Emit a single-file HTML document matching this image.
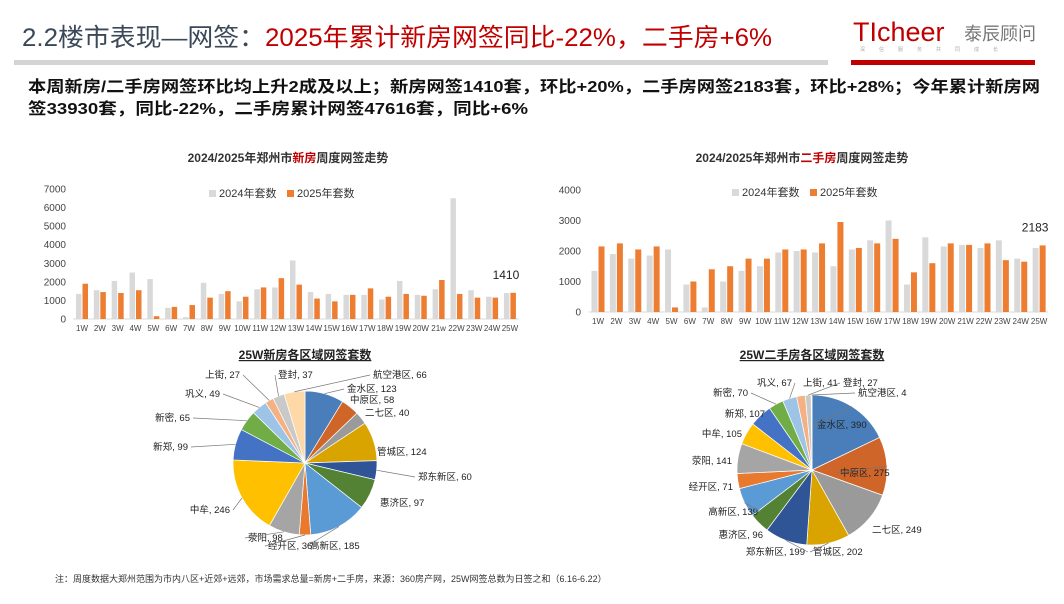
<!DOCTYPE html>
<html><head><meta charset="utf-8"><style>
body{margin:0;background:#fff;width:1064px;height:599px;overflow:hidden;font-family:"Liberation Sans","Noto Sans CJK SC",sans-serif}
svg text{font-family:"Liberation Sans","Noto Sans CJK SC",sans-serif}
</style></head><body>
<svg id="s" width="1064" height="599" viewBox="0 0 1064 599">
<g>
<text x="22" y="46" font-size="25" fill="#3b4858" textLength="750" lengthAdjust="spacingAndGlyphs">2.2楼市表现—网签：<tspan fill="#c00000">2025年累计新房网签同比-22%，二手房+6%</tspan></text>
<rect x="14" y="60" width="814" height="5" fill="#d4d4d4"/>
<rect x="851" y="60" width="184" height="5" fill="#c00000"/>
<text x="853" y="41" font-size="27" fill="#c00000" font-weight="300">TIcheer</text>
<text x="964" y="40" font-size="18" fill="#777">泰辰顾问</text>
<text x="860" y="51" font-size="5" fill="#aaa" letter-spacing="14">深信服务共同成长</text>
</g>
<g font-weight="bold" font-size="16" fill="#111">
<text x="28" y="92" textLength="1012" lengthAdjust="spacingAndGlyphs">本周新房/二手房网签环比均上升2成及以上；新房网签1410套，环比+20%，二手房网签2183套，环比+28%；今年累计新房网</text>
<text x="28" y="114" textLength="500" lengthAdjust="spacingAndGlyphs">签33930套，同比-22%，二手房累计网签47616套，同比+6%</text>
</g>
<text x="288" y="162" font-size="12" font-weight="bold" text-anchor="middle" fill="#333">2024/2025年郑州市<tspan fill="#c00000">新房</tspan>周度网签走势</text>
<text x="802" y="162" font-size="12" font-weight="bold" text-anchor="middle" fill="#333">2024/2025年郑州市<tspan fill="#c00000">二手房</tspan>周度网签走势</text>
<text x="305" y="359" font-size="12" font-weight="bold" text-anchor="middle" fill="#222" text-decoration="underline">25W新房各区域网签套数</text>
<text x="812" y="359" font-size="12" font-weight="bold" text-anchor="middle" fill="#222" text-decoration="underline">25W二手房各区域网签套数</text>
<text x="55" y="582" font-size="9" fill="#333">注：周度数据大郑州范围为市内八区+近郊+远郊，市场需求总量=新房+二手房，来源：360房产网，25W网签总数为日签之和（6.16-6.22）</text>
<g id="charts"></g>
</svg>
<script>
const weeks=["1W","2W","3W","4W","5W","6W","7W","8W","9W","10W","11W","12W","13W","14W","15W","16W","17W","18W","19W","20W","21w","22W","23W","24W","25W"];
const weeksR=["1W","2W","3W","4W","5W","6W","7W","8W","9W","10W","11W","12W","13W","14W","15W","16W","17W","18W","19W","20W","21W","22W","23W","24W","25W"];
const newY2024=[1350,1550,2050,2500,2150,600,100,1950,1350,950,1600,1700,3150,1450,1350,1300,1300,1050,2050,1300,1600,6500,1550,1200,1400];
const newY2025=[1900,1450,1400,1550,150,650,750,1150,1500,1200,1700,2200,1850,1100,950,1300,1650,1200,1350,1250,2100,1350,1150,1150,1410];
const newTicks=[0,1000,2000,3000,4000,5000,6000,7000];
const secY2024=[1350,1900,1750,1850,2050,900,150,1000,1350,1500,1950,2000,1950,1500,2050,2350,3000,900,2450,2150,2200,2100,2350,1750,2100];
const secY2025=[2150,2250,2050,2150,150,1000,1400,1500,1750,1750,2050,2050,2250,2950,2100,2250,2400,1300,1600,2250,2200,2250,1700,1650,2183];
const secTicks=[0,1000,2000,3000,4000];
const districts=["金水区","中原区","二七区","管城区","郑东新区","惠济区","高新区","经开区","荥阳","中牟","新郑","新密","巩义","上街","登封","航空港区"];
const newPie=[123,58,40,124,60,97,185,36,98,246,99,65,49,27,37,66];
const secPie=[390,275,249,202,199,96,139,71,141,105,107,70,67,41,27,4];
const colors=["#4a7ebb","#d0652a","#9a9a9a","#d9a400","#2f5597","#548235","#5b9bd5","#e8792f","#a5a5a5","#ffc000","#4472c4","#70ad47","#9dc3e6","#f4b183","#c9c9c9","#ffd8a8"];
const NS="http://www.w3.org/2000/svg";
const root=document.getElementById('charts');
function mk(t,a,p){const e=document.createElementNS(NS,t);for(const k in a)e.setAttribute(k,a[k]);(p||root).appendChild(e);return e;}
function bars(cfg){
  const g=mk('g',{});
  
  
  const max=cfg.ticks[cfg.ticks.length-1];
  const y=v=>cfg.y0-(v/max)*(cfg.y0-cfg.yTop);
  const x=i=>cfg.x0+i*cfg.step;
  cfg.ticks.forEach(t=>{const tx=mk('text',{x:cfg.axX,y:y(t)+3.5,'font-size':10,'text-anchor':'end',fill:'#444'},g);tx.textContent=t;
    
    });
  const ax=mk('line',{x1:cfg.x0-cfg.step/2,x2:x(24)+cfg.step/2,y1:cfg.y0,y2:cfg.y0,stroke:'#d9d9d9'},g);
  
  
  cfg.cats.forEach((c,i)=>{
    const a=mk('rect',{x:x(i)-cfg.bw-0.5,y:y(cfg.a[i]),width:cfg.bw,height:cfg.y0-y(cfg.a[i]),fill:'#d9d9d9'},g);
    
    
    const b=mk('rect',{x:x(i)+0.5,y:y(cfg.b[i]),width:cfg.bw,height:cfg.y0-y(cfg.b[i]),fill:'#ed7d31'},g);
    
    
    const t=mk('text',{x:x(i),y:cfg.y0+12,'font-size':8,'text-anchor':'middle',fill:'#444'},g);t.textContent=c;
    
    
  });
  const last=cfg.b.length-1;
  const lab=mk('text',{x:x(last)-4,y:Math.min(y(cfg.b[last]),y(cfg.a[last]))-14,'font-size':12,'text-anchor':'middle',fill:'#222'},g);
  lab.textContent=cfg.b[last];
  
  
  const lg=mk('g',{},g);
  
  
  mk('rect',{x:cfg.lx,y:cfg.ly-7,width:7,height:7,fill:'#d9d9d9'},lg);
  const t1=mk('text',{x:cfg.lx+10,y:cfg.ly,'font-size':11,fill:'#333'},lg);t1.textContent='2024年套数';
  mk('rect',{x:cfg.lx+78,y:cfg.ly-7,width:7,height:7,fill:'#ed7d31'},lg);
  const t2=mk('text',{x:cfg.lx+88,y:cfg.ly,'font-size':11,fill:'#333'},lg);t2.textContent='2025年套数';
}
bars({name:'new-house-bar-chart',cats:weeks,a:newY2024,b:newY2025,ticks:newTicks,x0:82,step:17.83,y0:319,yTop:189,axX:66,bw:5.5,lx:209,ly:197});
bars({name:'second-house-bar-chart',cats:weeksR,a:secY2024,b:secY2025,ticks:secTicks,x0:598,step:18.38,y0:312,yTop:190,axX:581,bw:6,lx:732,ly:196});
function pie(cfg){
  const g=mk('g',{});
  
  
  const tot=cfg.vals.reduce((a,b)=>a+b,0);let ang=0;
  cfg.vals.forEach((v,i)=>{
    const a0=ang,a1=ang+v/tot*2*Math.PI;ang=a1;
    const p=(a,r)=>[cfg.cx+r*Math.sin(a),cfg.cy-r*Math.cos(a)];
    const [x0,y0]=p(a0,cfg.r),[x1,y1]=p(a1,cfg.r);
    const s=mk('path',{d:`M${cfg.cx},${cfg.cy}L${x0},${y0}A${cfg.r},${cfg.r} 0 ${a1-a0>Math.PI?1:0} 1 ${x1},${y1}Z`,fill:colors[i],stroke:'#fff','stroke-width':0.7},g);
    
    
    const L=cfg.labels[i];
    const t=mk('text',{x:L[0],y:L[1],'font-size':9.5,'text-anchor':L[2],fill:'#222'},g);
    t.textContent=districts[i]+', '+v;
    
    
    const [ex,ey]=p((a0+a1)/2,cfg.r);
    const d=Math.hypot(L[0]-ex,L[1]-3-ey);
    if(d>14){
      const ln=mk('line',{x1:ex,y1:ey,x2:L[0]+(L[2]==='end'?3:-3),y2:L[1]-3,stroke:'#777','stroke-width':0.7},g);
      
      
    }
  });
}
pie({name:'new-house-pie',vals:newPie,cx:305,cy:463,r:72,labels:[[347,392,'start'],[350,403,'start'],[365,416,'start'],[377,455,'start'],[418,480,'start'],[380,506,'start'],[310,549,'start'],[268,549,'start'],[248,541,'start'],[230,513,'end'],[188,450,'end'],[190,421,'end'],[220,397,'end'],[240,378,'end'],[278,378,'start'],[373,378,'start']]});
pie({name:'second-house-pie',vals:secPie,cx:812,cy:470,r:75,labels:[[817,428,'start'],[840,476,'start'],[872,533,'start'],[813,555,'start'],[805,555,'end'],[763,538,'end'],[758,515,'end'],[733,490,'end'],[732,464,'end'],[742,437,'end'],[765,417,'end'],[748,396,'end'],[792,386,'end'],[803,386,'start'],[843,386,'start'],[858,396,'start']]});
</script>
</body></html>
